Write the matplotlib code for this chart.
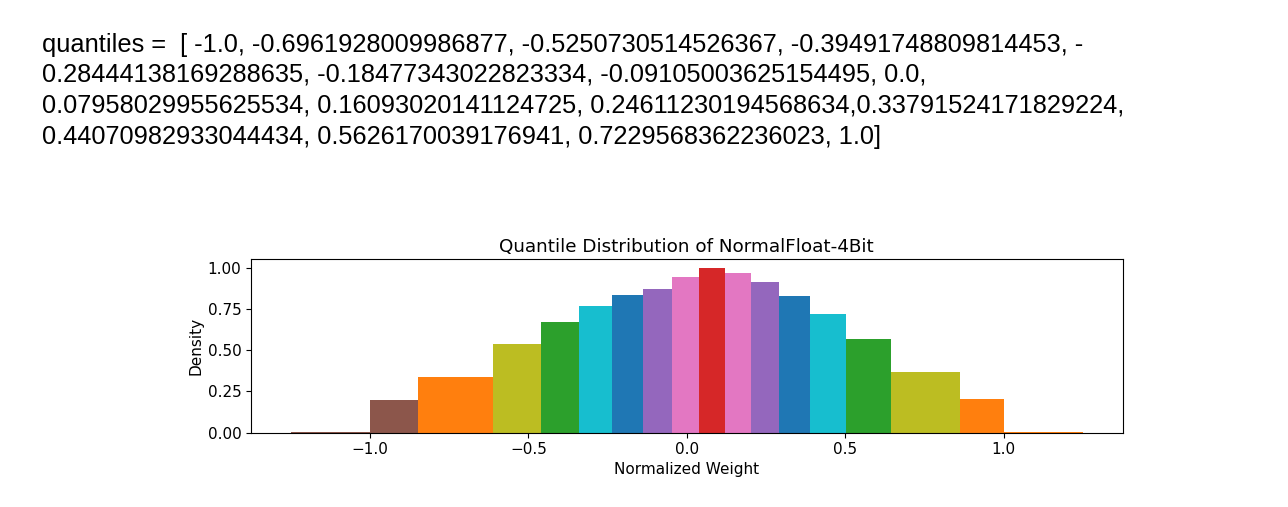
import matplotlib.pyplot as plt
import numpy as np

quantiles = [-1.0, -0.6961928009986877, -0.5250730514526367, -0.39491748809814453,
             -0.28444138169288635, -0.18477343022823334, -0.09105003625154495, 0.0,
             0.07958029955625534, 0.16093020141124725, 0.24611230194568634, 0.33791524171829224,
             0.44070982933044434, 0.5626170039176941, 0.7229568362236023, 1.0]

# density of each bin
density = [0.005, 0.199, 0.337, 0.535, 0.669, 0.766, 0.833, 0.872, 0.945,
           1.0, 0.967, 0.911, 0.830, 0.718, 0.570, 0.369, 0.207, 0.005]

colors = ['tab:brown', 'tab:brown', 'tab:orange', 'tab:olive', 'tab:green', 'tab:cyan',
          'tab:blue', 'tab:purple', 'tab:pink', 'tab:red', 'tab:pink', 'tab:purple',
          'tab:blue', 'tab:cyan', 'tab:green', 'tab:olive', 'tab:orange', 'tab:orange']

text_lines = [
    "quantiles =  [ -1.0, -0.6961928009986877, -0.5250730514526367, -0.39491748809814453, -",
    "0.28444138169288635, -0.18477343022823334, -0.09105003625154495, 0.0,",
    "0.07958029955625534, 0.16093020141124725, 0.24611230194568634,0.33791524171829224,",
    "0.44070982933044434, 0.5626170039176941, 0.7229568362236023, 1.0]",
]

q = np.array(quantiles)
mids = (q[:-1] + q[1:]) / 2
edges = np.concatenate([[-1.25, -1.0], mids, [1.0, 1.25]])
widths = np.diff(edges)

W, H = 1288, 507
fig = plt.figure(figsize=(W / 100, H / 100), dpi=100)

baselines = [52, 82, 113, 144]
for line, yb in zip(text_lines, baselines):
    fig.text(42 / W, 1 - yb / H, line, family='Liberation Sans', fontsize=18.3,
             va='baseline', ha='left', color='black')

ax = fig.add_axes([251 / W, 1 - 432.7 / H, (1122.7 - 251) / W, (432.7 - 259.3) / H])
ax.bar(edges[:-1], density, width=widths, align='edge', color=colors)
ax.set_title("Quantile Distribution of NormalFloat-4Bit", fontsize=13.2, pad=5)
ax.set_xlabel("Normalized Weight", fontsize=11, labelpad=3)
ax.set_ylabel("Density", fontsize=11, labelpad=3)
ax.set_yticks([0, 0.25, 0.5, 0.75, 1.0])
ax.tick_params(labelsize=11)

fig.savefig("out.png", dpi=100)
